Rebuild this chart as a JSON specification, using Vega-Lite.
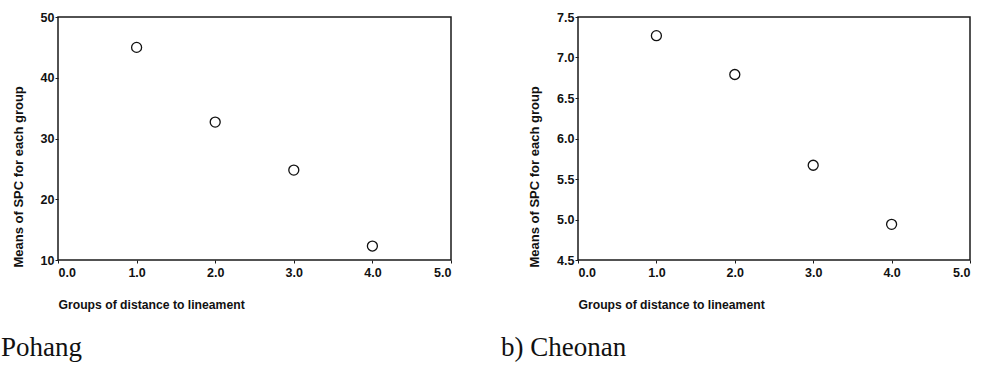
{
  "$schema": "https://vega.github.io/schema/vega-lite/v6.json",
  "padding": {"left": 0, "top": 10, "right": 0, "bottom": 0},
  "background": "white",
  "spacing": 47,
  "config": {
    "view": {"stroke": "#1a1a1a", "strokeWidth": 1.5},
    "axis": {
      "grid": false,
      "domain": false,
      "tickColor": "#1a1a1a",
      "tickSize": 3,
      "labelFont": "Liberation Sans",
      "labelFontWeight": "bold",
      "labelFontSize": 12.5,
      "labelColor": "#111111",
      "titleFont": "Liberation Sans",
      "titleFontWeight": "bold",
      "titleColor": "#111111"
    },
    "title": {
      "font": "Liberation Serif",
      "fontSize": 27,
      "fontWeight": "normal",
      "color": "#111111",
      "orient": "bottom",
      "anchor": "start",
      "frame": "group"
    }
  },
  "datasets": {
    "pohang": [
      {"group": 1, "mean": 45.0},
      {"group": 2, "mean": 32.7},
      {"group": 3, "mean": 24.8},
      {"group": 4, "mean": 12.3}
    ],
    "cheonan": [
      {"group": 1, "mean": 7.27},
      {"group": 2, "mean": 6.79},
      {"group": 3, "mean": 5.67},
      {"group": 4, "mean": 4.94}
    ]
  },
  "hconcat": [
    {
      "width": 393,
      "height": 243,
      "data": {"name": "pohang"},
      "title": {"text": "Pohang", "dx": -57, "offset": 24},
      "mark": {"type": "point", "shape": "circle", "filled": false, "size": 100, "strokeWidth": 1.3, "color": "#111111", "opacity": 1},
      "encoding": {
        "x": {
          "field": "group", "type": "quantitative",
          "scale": {"domain": [0, 5], "nice": false, "zero": false},
          "axis": {"values": [0, 1, 2, 3, 4, 5], "format": ".1f", "title": "Groups of distance to lineament", "titleFontSize": 12.2, "titleAnchor": "start", "titleAlign": "left", "titlePadding": 20, "labelPadding": 3}
        },
        "y": {
          "field": "mean", "type": "quantitative",
          "scale": {"domain": [10, 50], "nice": false, "zero": false},
          "axis": {"values": [10, 20, 30, 40, 50], "title": "Means of SPC for each group", "titleFontSize": 13, "titleAnchor": "start", "titleY": 250, "titlePadding": 15, "labelPadding": 1}
        }
      }
    },
    {
      "width": 392,
      "height": 243,
      "data": {"name": "cheonan"},
      "title": {"text": "b)  Cheonan", "dx": -77, "offset": 24},
      "mark": {"type": "point", "shape": "circle", "filled": false, "size": 100, "strokeWidth": 1.3, "color": "#111111", "opacity": 1},
      "encoding": {
        "x": {
          "field": "group", "type": "quantitative",
          "scale": {"domain": [0, 5], "nice": false, "zero": false},
          "axis": {"values": [0, 1, 2, 3, 4, 5], "format": ".1f", "title": "Groups of distance to lineament", "titleFontSize": 12.2, "titleAnchor": "start", "titleAlign": "left", "titlePadding": 20, "labelPadding": 3}
        },
        "y": {
          "field": "mean", "type": "quantitative",
          "scale": {"domain": [4.5, 7.5], "nice": false, "zero": false},
          "axis": {"values": [4.5, 5, 5.5, 6, 6.5, 7, 7.5], "format": ".1f", "title": "Means of SPC for each group", "titleFontSize": 13, "titleAnchor": "start", "titleY": 250, "titlePadding": 15, "labelPadding": 1}
        }
      }
    }
  ]
}
